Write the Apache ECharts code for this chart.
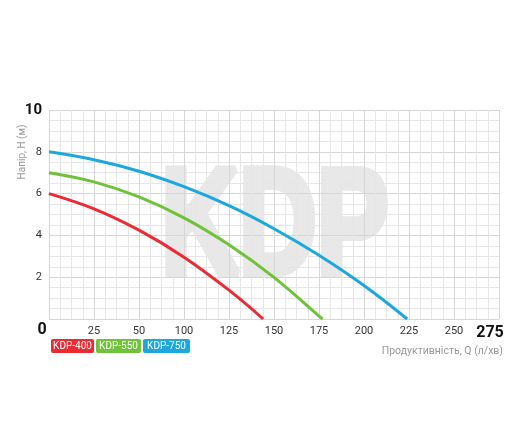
<!DOCTYPE html>
<html>
<head>
<meta charset="utf-8">
<script src="https://cdn.jsdelivr.net/npm/echarts@6/dist/echarts.min.js"></script>
<style>
  html, body { margin: 0; padding: 0; background: #fff; }
  #chart { width: 520px; height: 439px; }
</style>
</head>
<body>
<div id="chart"></div>
<script>
// tick labels as printed on the chart (note: no 75 on the original scale)
var xTicks = [0, 25, 50, 100, 125, 150, 175, 200, 225, 250, 275];
var yTicks = [0, 2, 4, 6, 8, 10];

var seriesNames = ['KDP-400', 'KDP-550', 'KDP-750'];
var seriesColors = ['#ec2a33', '#6fc23a', '#1ca8df'];

// Q (l/min) and H (m)
var q400 = [0, 25, 50, 100, 125, 144];
var h400 = [6.0, 5.27, 4.25, 2.96, 1.38, 0];
var q550 = [0, 25, 50, 100, 125, 150, 175, 177];
var h550 = [7.0, 6.56, 5.84, 4.84, 3.55, 1.99, 0.14, 0];
var q750 = [0, 25, 50, 100, 125, 150, 175, 200, 224];
var h750 = [8.0, 7.62, 7.07, 6.33, 5.42, 4.32, 3.05, 1.6, 0];

var font = 'Roboto, "Liberation Sans", sans-serif';

// position of a Q value on the printed (uneven) scale
function qToGrid(q) {
  for (var i = 1; i < xTicks.length; i++) {
    if (q <= xTicks[i]) {
      return i - 1 + (q - xTicks[i - 1]) / (xTicks[i] - xTicks[i - 1]);
    }
  }
  return xTicks.length - 1;
}
function pairs(qs, hs) {
  return qs.map(function (q, i) { return [qToGrid(q), hs[i]]; });
}

var chart = echarts.init(document.getElementById('chart'));
var boxWidths = [33, 35, 37];
var rich = {};
seriesNames.forEach(function (n, i) {
  rich['s' + i] = {
    backgroundColor: seriesColors[i], color: '#fff', fontFamily: font,
    fontSize: 10, lineHeight: 11, width: boxWidths[i], align: 'center',
    padding: [2, 5, 2, 5], borderRadius: 2
  };
});

chart.setOption({
  animation: false,
  grid: { left: 49, right: 21, top: 110, bottom: 120, outerBoundsMode: 'none' },
  legend: {
    left: 41, top: 334, icon: 'none', itemWidth: 0, itemGap: -3,
    data: seriesNames,
    formatter: function (name) {
      return '{s' + seriesNames.indexOf(name) + '|' + name + '}';
    },
    textStyle: { rich: rich }
  },
  xAxis: {
    type: 'value', min: 0, max: xTicks.length - 1, interval: 1,
    axisLine: { show: false }, axisTick: { show: false },
    splitLine: { show: true, lineStyle: { color: '#d6d6d6', width: 1 } },
    minorTick: { show: false, splitNumber: 4 },
    minorSplitLine: { show: true, lineStyle: { color: '#e6e6e6', width: 1 } },
    axisLabel: {
      margin: 7, fontFamily: font, fontSize: 11, color: '#333',
      formatter: function (v) {
        var t = xTicks[Math.round(v)];
        if (v === 0) return '{b0|' + t + '}';
        if (v === xTicks.length - 1) return '{bl|' + t + '}';
        return String(t);
      },
      rich: {
        b0: { fontFamily: font, fontSize: 16, lineHeight: 8, fontWeight: 'bold', color: '#111', padding: [0, 14, 0, 0] },
        bl: { fontFamily: font, fontSize: 16, lineHeight: 13, fontWeight: 'bold', color: '#111', padding: [0, 18, 0, 0] }
      }
    }
  },
  yAxis: {
    type: 'value', min: yTicks[0], max: yTicks[yTicks.length - 1], interval: 2,
    axisLine: { show: false }, axisTick: { show: false },
    splitLine: { show: true, lineStyle: { color: '#d6d6d6', width: 1 } },
    minorTick: { show: false, splitNumber: 4 },
    minorSplitLine: { show: true, lineStyle: { color: '#e6e6e6', width: 1 } },
    axisLabel: {
      margin: 7, fontFamily: font, fontSize: 11, color: '#333',
      formatter: function (v) {
        if (v === 0) return '';
        if (v === 10) return '{b|10}';
        return String(v);
      },
      rich: { b: { fontFamily: font, fontSize: 15, fontWeight: 'bold', color: '#111' } }
    }
  },
  graphic: [
    {
      type: 'text', z: -1, left: 158, top: 153, scaleX: 0.72,
      style: {
        text: 'KDP', font: 'bold 150px "Liberation Sans", sans-serif',
        fill: '#e8e8e8', stroke: '#e8e8e8', lineWidth: 8
      }
    },
    {
      type: 'text', x: 22, y: 152, rotation: Math.PI / 2,
      style: {
        text: 'Напір, H (м)', font: '10px ' + font, fill: '#999',
        textAlign: 'center', textVerticalAlign: 'middle'
      }
    },
    {
      type: 'text', x: 503, y: 351,
      style: {
        text: 'Продуктивність, Q (л/хв)', font: '10.5px ' + font, fill: '#999',
        textAlign: 'right', textVerticalAlign: 'middle'
      }
    }
  ],
  series: [
    { name: seriesNames[0], data: pairs(q400, h400), color: seriesColors[0] },
    { name: seriesNames[1], data: pairs(q550, h550), color: seriesColors[1] },
    { name: seriesNames[2], data: pairs(q750, h750), color: seriesColors[2] }
  ].map(function (s) {
    return {
      name: s.name, type: 'line', data: s.data, smooth: 0.4, symbol: 'none',
      z: 3, lineStyle: { width: 3, color: s.color }, itemStyle: { color: s.color }
    };
  })
});
</script>
</body>
</html>
